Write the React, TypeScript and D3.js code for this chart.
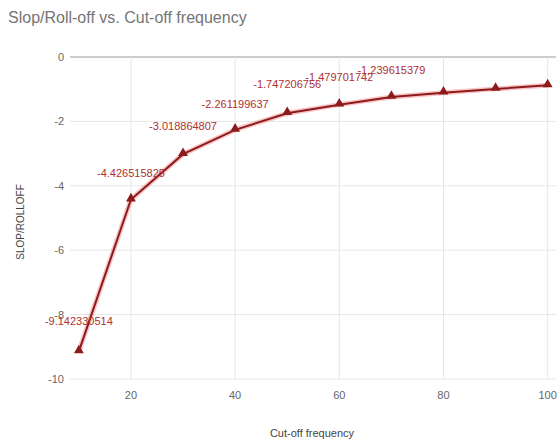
import React from "react";
import * as d3 from "d3";

const cutoff = [10, 20, 30, 40, 50, 60, 70, 80, 90, 100];
const slope = [
  -9.142330514, -4.426515825, -3.018864807, -2.261199637, -1.747206756,
  -1.479701742, -1.239615379, -1.11, -0.99, -0.88,
];
const labels = [
  "-9.142330514", "-4.426515825", "-3.018864807", "-2.261199637", "-1.747206756",
  "-1.479701742", "-1.239615379", "", "", "",
];
const labelDy = [-30, -27, -28, -26, -29, -28, -27, 0, 0, 0];
const xTicks = [20, 40, 60, 80, 100];
const yTicks = [0, -2, -4, -6, -8, -10];

export default function App() {
  const W = 560, H = 443;
  const x = d3.scaleLinear().domain([8.3, 101.6]).range([70, 556]);
  const y = d3.scaleLinear().domain([0, -10]).range([57, 379]);
  const pts = cutoff.map((c, i) => [x(c), y(slope[i])] as [number, number]);
  const line = d3.line()(pts) || "";
  const tri = d3.symbol().type(d3.symbolTriangle).size(42)() || "";
  const font = "Arial, 'Liberation Sans', sans-serif";
  return (
    <svg width={W} height={H} style={{ position: "absolute", left: 0, top: 0, background: "#fff" }}>
      <text x={8} y={23} fontFamily={font} fontSize={16} fill="#757575">Slop/Roll-off vs. Cut-off frequency</text>
      {yTicks.map((t) => (
        <g key={"y" + t}>
          <line x1={70} x2={556} y1={y(t)} y2={y(t)} stroke={t === 0 ? "#bdbdbd" : "#e6e6e6"} strokeWidth={t === 0 ? 1.5 : 1} />
          <text x={64} y={y(t) + 4} textAnchor="end" fontFamily={font} fontSize={11} fill="#666">{t}</text>
        </g>
      ))}
      {xTicks.map((t) => (
        <g key={"x" + t}>
          <line x1={x(t)} x2={x(t)} y1={57} y2={379} stroke="#e6e6e6" />
          <text x={x(t)} y={399} textAnchor="middle" fontFamily={font} fontSize={11} fill="#666">{t}</text>
        </g>
      ))}
      <text x={312} y={437} textAnchor="middle" fontFamily={font} fontSize={11} fill="#444">Cut-off frequency</text>
      <text transform="translate(24,222) rotate(-90)" textAnchor="middle" fontFamily={font} fontSize={10} fill="#444">SLOP/ROLLOFF</text>
      <path d={line} fill="none" stroke="#f08080" strokeOpacity={0.45} strokeWidth={5} />
      <path d={line} fill="none" stroke="#8e1b1b" strokeWidth={2} />
      {pts.map((p, i) => (
        <path key={"m" + i} d={tri} transform={`translate(${p[0]},${p[1] - 1})`} fill="#8e1b1b" />
      ))}
      {pts.map((p, i) =>
        labels[i] ? (
          <text key={"l" + i} x={p[0]} y={p[1] + labelDy[i] + 4} textAnchor="middle" fontFamily={font} fontSize={11} fill="#b03030">{labels[i]}</text>
        ) : null
      )}
    </svg>
  );
}
